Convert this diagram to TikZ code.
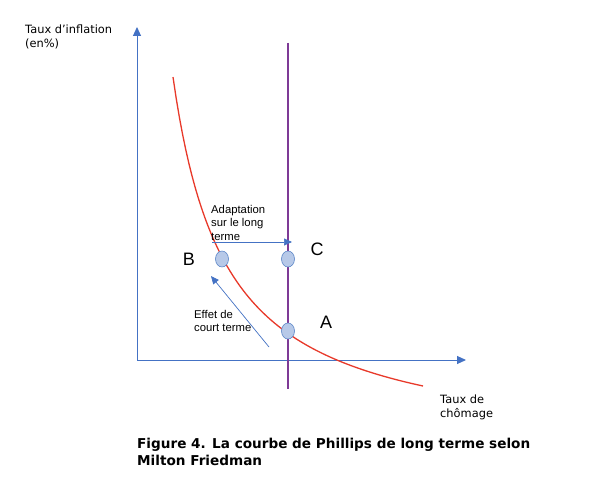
\documentclass[tikz,border=0pt]{standalone}
\usepackage{fontspec}
\setmainfont{Liberation Sans}
\newfontfamily\verd{DejaVu Sans}
\usetikzlibrary{arrows.meta,shapes.geometric}
\definecolor{axblue}{HTML}{4472C4}
\definecolor{curvered}{HTML}{E8392A}
\definecolor{purp}{HTML}{7E3A96}
\definecolor{ptfill}{HTML}{B7C9E8}
\definecolor{ptdraw}{HTML}{5B86C8}
\begin{document}
\begin{tikzpicture}[x=1pt,y=-1pt,
  axis/.style={draw=axblue,line width=1pt,-{Triangle[length=9pt,width=8pt]}},
  pt/.style={ellipse,draw=ptdraw,fill=ptfill,line width=0.6pt,minimum width=13pt,minimum height=16pt,inner sep=0pt},
  lbl/.style={font=\fontsize{11.3}{13.5}\selectfont,align=left,inner sep=0pt,anchor=north west},
  big/.style={font=\fontsize{18}{20}\selectfont,inner sep=0pt},
  axlbl/.style={font=\verd\fontsize{11.4}{14}\selectfont,align=left,inner sep=0pt,anchor=north west},
  thin arrow/.style={draw=axblue,line width=0.7pt,-{Triangle[length=8pt,width=7pt]}}]
\useasboundingbox (0,0) rectangle (602,484);
\fill[white] (0,0) rectangle (602,484);
\coordinate (O) at (137,360);
\coordinate (ytip) at (137,27);
\coordinate (xtip) at (466,360);
\draw[axis] (O) -- (ytip);
\draw[axis] (O) -- (xtip);
\coordinate (vtop) at (288,43);
\coordinate (vbot) at (288,389);
\draw[purp,line width=1.4pt] (vtop) -- (vbot);
\draw[curvered,line width=1.3pt] plot[domain=173:423,samples=80] (\x,{451.5-(198.46/(\x-120))*100});
\node[pt] (B) at (222,259) {};
\node[pt] (C) at (288,259) {};
\node[pt] (A) at (288,331) {};
\coordinate (adS) at (212,242);
\coordinate (adE) at (292,242);
\draw[thin arrow] (adS) -- (adE);
\coordinate (efS) at (269,347);
\coordinate (efE) at (211,276);
\draw[thin arrow] (efS) -- (efE);
\node[lbl] (adl) at (211,205) {Adaptation\\sur le long\\terme};
\node[lbl] (efl) at (194,310) {Effet de\\court terme};
\node[big] (Bl) at (189,259) {B};
\node[big] (Cl) at (317,249) {C};
\node[big] (Al) at (326,322) {A};
\node[axlbl] (yl) at (25,25) {Taux d’inflation\\(en\%)};
\node[axlbl] (xl) at (440,395) {Taux de\\chômage};
\node[font=\verd\bfseries\fontsize{13.6}{17}\selectfont,align=left,inner sep=0pt,anchor=north west] (cap) at (137,438) {Figure 4. La courbe de Phillips de long terme selon\\Milton Friedman};
\end{tikzpicture}
\end{document}
